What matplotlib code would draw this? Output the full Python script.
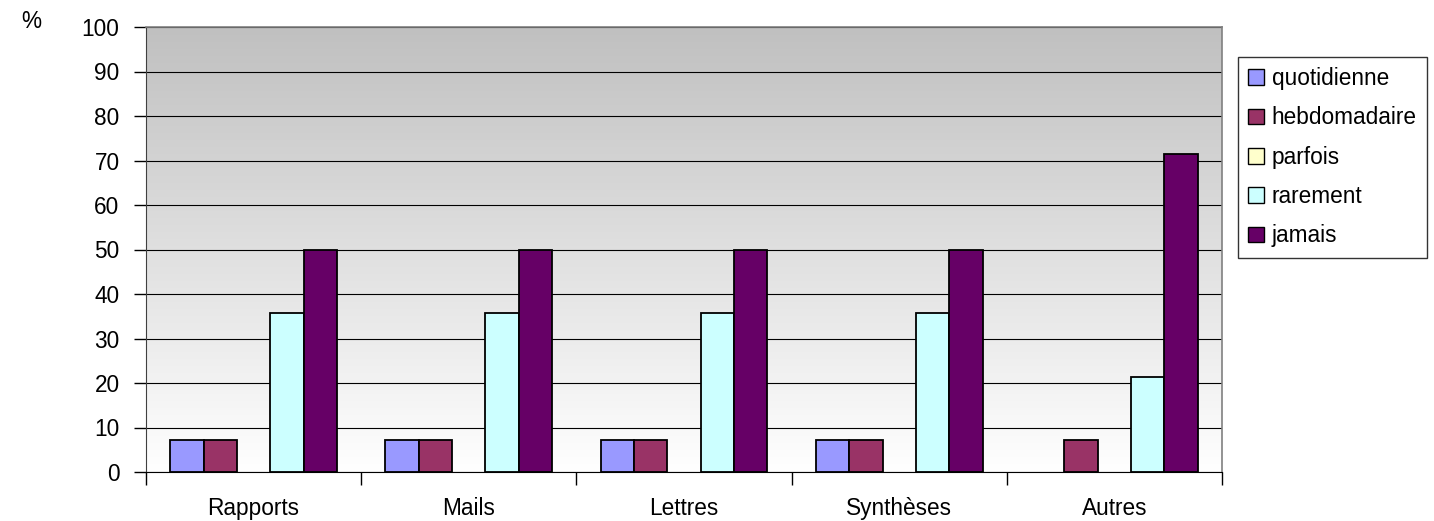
import matplotlib
matplotlib.use("Agg")
import matplotlib.pyplot as plt
import numpy as np
from matplotlib.patches import Patch

plt.rcParams['font.family'] = ['Liberation Sans', 'DejaVu Sans']

categories = ["Rapports", "Mails", "Lettres", "Synthèses", "Autres"]
series_names = ["quotidienne", "hebdomadaire", "parfois", "rarement", "jamais"]
quotidienne = [7.14, 7.14, 7.14, 7.14, 0]
hebdomadaire = [7.14, 7.14, 7.14, 7.14, 7.14]
parfois = [0, 0, 0, 0, 0]
rarement = [35.7, 35.7, 35.7, 35.7, 21.4]
jamais = [50, 50, 50, 50, 71.4]
series_values = [quotidienne, hebdomadaire, parfois, rarement, jamais]
colors = ["#9999ff", "#993366", "#ffffcc", "#ccffff", "#660066"]
yticks = list(range(0, 101, 10))

FS = 16.3

fig = plt.figure(figsize=(14.34, 5.21), dpi=100)
ax = fig.add_axes([146/1434, 1 - 472/521, (1222-146)/1434, (472-27)/521])

# gradient background
grad = np.linspace(0, 1, 256).reshape(-1, 1)
ax.imshow(grad, extent=[0, 1, 0, 1], transform=ax.transAxes, aspect='auto',
          cmap=matplotlib.colors.LinearSegmentedColormap.from_list('g', ['#ffffff', '#c0c0c0']),
          origin='lower', zorder=0)

n = len(categories)
x = np.arange(n)
w = 0.155
for i, (name, vals, c) in enumerate(zip(series_names, series_values, colors)):
    edges = ['black' if v > 0 else 'none' for v in vals]
    ax.bar(x + (i - 2) * w, vals, width=w, color=c, edgecolor=edges, linewidth=1.3,
           label=name, zorder=3)

ax.set_xlim(-0.5, n - 0.5)
ax.set_ylim(0, 100)
ax.set_yticks(yticks)
ax.set_yticklabels([str(t) for t in yticks], fontsize=FS)
ax.yaxis.grid(True, color='black', linewidth=0.8, zorder=1)
ax.set_axisbelow(True)

ax.set_xticks(x)
ax.set_xticklabels(categories, fontsize=FS)
ax.tick_params(axis='x', length=0, pad=18)
ax.set_xticks(np.arange(-0.5, n, 1), minor=True)
ax.tick_params(axis='x', which='minor', length=9, width=1, color='black')
ax.tick_params(axis='y', length=9, width=1, color='black', pad=10)

for s in ['top', 'right']:
    ax.spines[s].set_color('#808080')
    ax.spines[s].set_linewidth(1.2)
ax.spines['left'].set_color('#404040')
ax.spines['bottom'].set_color('black')

fig.text(21/1434, 1 - 22/521, "%", fontsize=FS, ha='left', va='center')

handles = [Patch(facecolor=c, edgecolor='black', label=nm) for nm, c in zip(series_names, colors)]
leg = fig.legend(handles=handles, loc='upper left', bbox_to_anchor=(1238/1434, 1 - 57/521),
                 fontsize=FS, frameon=True, fancybox=False, edgecolor='black',
                 handlelength=0.68, handleheight=0.68, handletextpad=0.35,
                 labelspacing=0.72, borderpad=0.45, borderaxespad=0)
leg.get_frame().set_linewidth(1)

fig.savefig("out.png", dpi=100)
